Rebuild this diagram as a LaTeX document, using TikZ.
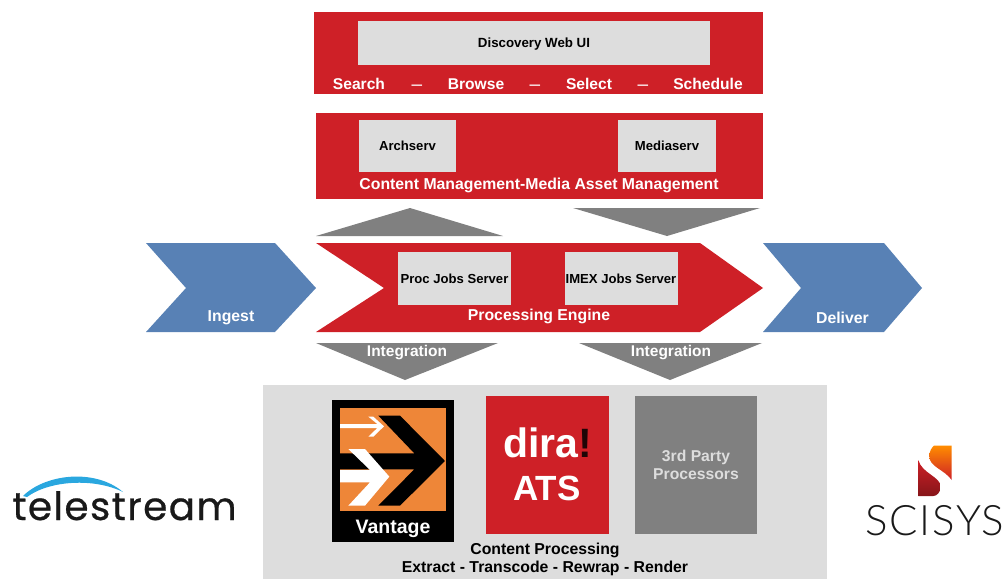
\documentclass[tikz,border=0pt]{standalone}
\usepackage{fontspec}
\setmainfont{Liberation Sans}
\newfontfamily\telefont[LetterSpace=3.5,FakeBold=0.6]{Poppins}
\newfontfamily\scifont[LetterSpace=4]{Lato Light}
\definecolor{cred}{HTML}{CE2027}
\definecolor{cgray}{HTML}{DDDDDD}
\definecolor{dgray}{HTML}{808080}
\definecolor{cblue}{HTML}{5881B5}
\definecolor{corange}{HTML}{EE8638}
\definecolor{tblue}{HTML}{2AA7DF}
\tikzset{
  x=1pt,y=-1pt,
  lab/.style={font=\bfseries\fontsize{#1}{#1}\selectfont,inner sep=0pt,text=black},
  wlab/.style={font=\bfseries\fontsize{#1}{#1}\selectfont,inner sep=0pt,text=white},
  dashlab/.style={font=\fontsize{19}{19}\selectfont,inner sep=0pt,text=white},
  panel/.style={fill=cred,draw=none},
  box/.style={fill=cgray,draw=none},
  tri/.style={fill=dgray,draw=none},
  blue/.style={fill=cblue,draw=none}
}
\begin{document}
\begin{tikzpicture}
\useasboundingbox (0,0) rectangle (1006,579);
% top panel
\fill[panel] (314,12) rectangle (763,94);
\fill[box] (358,21) rectangle (710,65);
\node[lab=13.3] (ui) at (534,44) {Discovery Web UI};
\node[wlab=15.6] (s1) at (359,84) {Search};
\node[dashlab] (d1) at (417,87.5) {–};
\node[wlab=15.6] (s2) at (476,84) {Browse};
\node[dashlab] (d2) at (535,87.5) {–};
\node[wlab=15.6] (s3) at (589,84) {Select};
\node[dashlab] (d3) at (643,87.5) {–};
\node[wlab=15.6] (s4) at (708,84) {Schedule};
% content management
\fill[panel] (316,113) rectangle (763,199);
\fill[box] (359,120) rectangle (456,172);
\fill[box] (618,120) rectangle (716,172);
\node[lab=13.1] (arch) at (407.5,146) {Archserv};
\node[lab=13.1] (media) at (667,146) {Mediaserv};
\node[wlab=15.8] (cm) at (539,185) {Content Management-Media Asset Management};
% triangles
\fill[tri] (316,236) -- (410,208) -- (503,236) -- cycle;
\fill[tri] (573,208) -- (760,208) -- (667,236) -- cycle;
% chevrons
\fill[blue] (146,243) -- (275,243) -- (316,288) -- (275,332) -- (146,332) -- (186,288) -- cycle;
\fill[blue] (763,243) -- (884,243) -- (922,288) -- (884,332) -- (763,332) -- (801,288) -- cycle;
\node[wlab=15.8] (ing) at (231,317.5) {Ingest};
\node[wlab=15.8] (del) at (842.5,317.5) {Deliver};
% engine
\fill[panel] (316,243) -- (700,243) -- (763,288) -- (700,332) -- (316,332) -- (384,288) -- cycle;
\fill[box] (398,252) rectangle (511,305);
\fill[box] (565,252) rectangle (678,305);
\node[lab=13.1] (proc) at (454.5,279) {Proc Jobs Server};
\node[lab=13.1] (imex) at (621,279) {IMEX Jobs Server};
\node[wlab=15.8] (pe) at (539,316.5) {Processing Engine};
% integration
\fill[tri] (316,343) -- (498,343) -- (405,380) -- cycle;
\fill[tri] (579,343) -- (762,343) -- (670,380) -- cycle;
\node[wlab=15.5] (i1) at (407,352.5) {Integration};
\node[wlab=15.5] (i2) at (671,352.5) {Integration};
% bottom panel
\fill[fill=cgray] (263,385) rectangle (827,579);
% Vantage
\fill[black] (332,400) rectangle (454,542);
\begin{scope}[shift={(320,385)},x=0.3333pt,y=-0.3333pt]
\fill[corange] (60,68) rectangle (378,378);
\fill[black] (175,92) -- (240,92) -- (375,228) -- (240,362) -- (175,362) -- (283,253) -- (60,253) -- (60,205) -- (283,205) -- cycle;
\fill[white] (85,192) -- (135,192) -- (208,275) -- (135,362) -- (85,362) -- (150,292) -- (60,292) -- (60,255) -- (150,255) -- cycle;
\fill[white] (60,117) -- (172,117) -- (145,95) -- (160,95) -- (192,124) -- (160,155) -- (145,155) -- (172,129) -- (60,129) -- cycle;
\end{scope}
\node[wlab=19.5] (van) at (393,528.5) {Vantage};
% dira
\fill[cred] (486,396) rectangle (609,534);
\node[wlab=41] (dira) at (547.5,443) {dira\textcolor{black!85!cred}{!}};
\node[wlab=35] (ats) at (547,488) {ATS};
% third party
\fill[dgray] (635,396) rectangle (757,534);
\node[font=\bfseries\fontsize{15.7}{18}\selectfont,align=center,text=cgray,inner sep=0pt] (third) at (696,465) {3rd Party\\Processors};
\node[lab=15.8] (cp) at (545,550) {Content Processing};
\node[lab=15.8] (etr) at (545,568.5) {Extract - Transcode - Rewrap - Render};
% telestream logo
\fill[tblue] (23,496) .. controls (45,474) and (95,468) .. (123,492) .. controls (95,478) and (50,480) .. (27,497) -- cycle;
\node[font=\telefont\fontsize{39}{39}\selectfont,inner sep=0pt,text=black!90,anchor=base] (tele) at (124.5,520) {telestream};
% scisys logo
\begin{scope}[shift={(850,435)},x=0.3333pt,y=-0.3333pt]
\shade[top color=orange!90!yellow,bottom color=cred] (252,32) -- (305,32) -- (305,135) .. controls (285,105) and (238,95) .. (238,65) .. controls (238,48) and (245,38) .. (252,32) -- cycle;
\shade[top color=cred,bottom color=cred!65!black] (205,75) .. controls (215,115) and (272,125) .. (272,155) .. controls (272,172) and (260,183) .. (250,183) -- (205,183) -- cycle;
\end{scope}
\node[font=\scifont\fontsize{42}{42}\selectfont,inner sep=0pt,text=black!90,anchor=base] (sci) at (935,535.5) {SCISYS};
\end{tikzpicture}
\end{document}
